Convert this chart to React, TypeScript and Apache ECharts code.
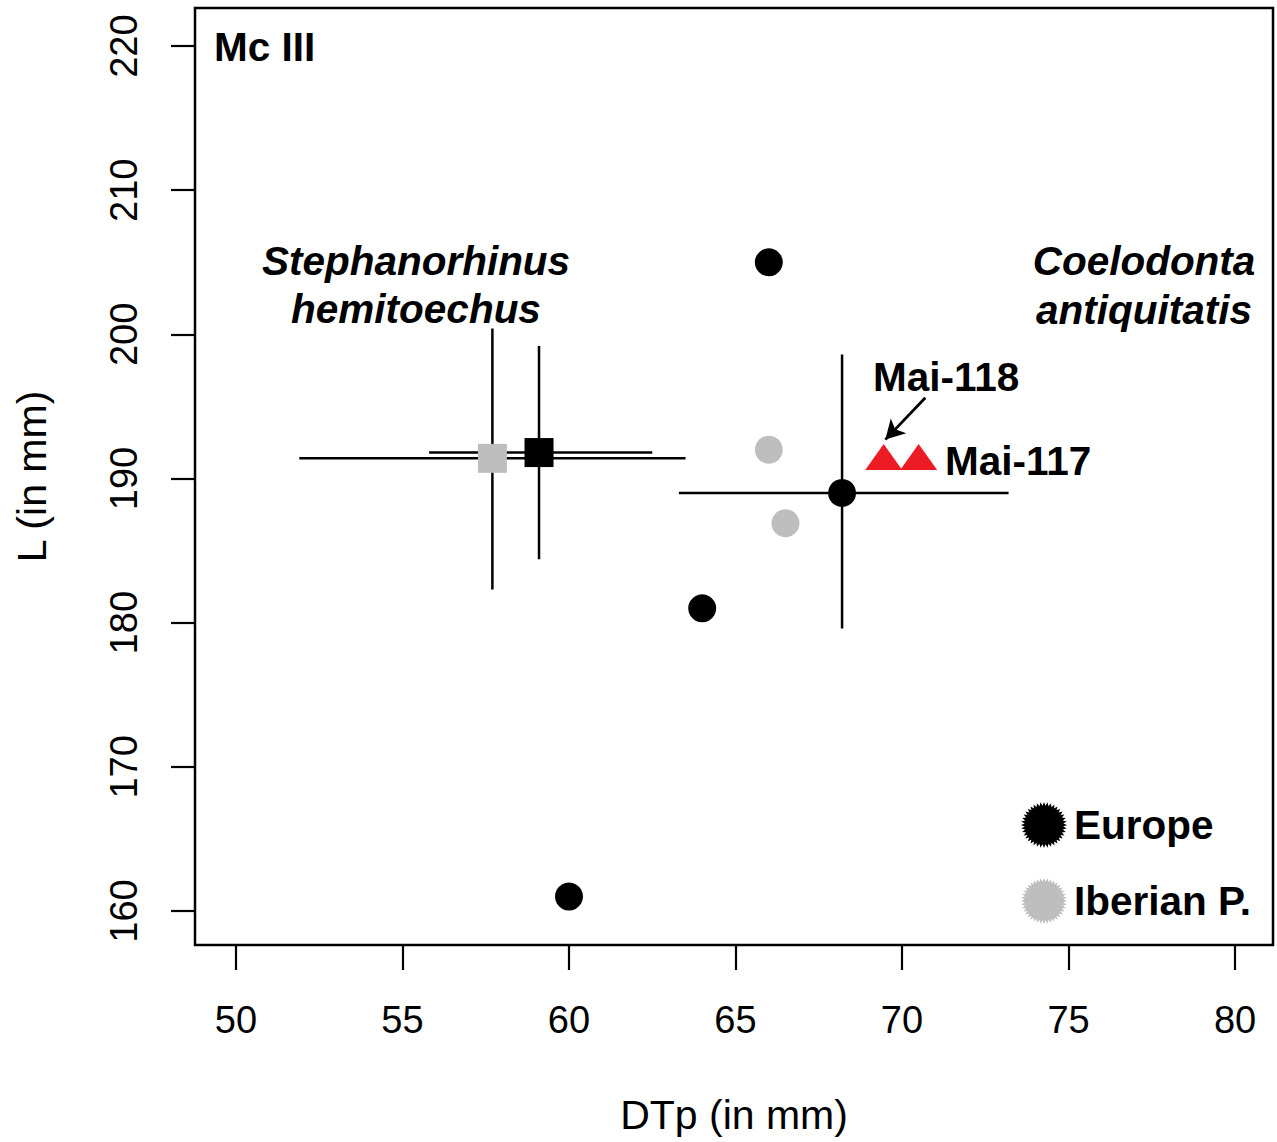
import { useEffect, useRef } from "react";
import * as echarts from "echarts";

// Axis ticks
const xTicks = [50, 55, 60, 65, 70, 75, 80];
const yTicks = [160, 170, 180, 190, 200, 210, 220];

// Coelodonta antiquitatis (circles)
const europeCircles = [
  [66, 205],
  [64, 181],
  [60, 161],
];
const europeMean = [[68.2, 189]];
const iberianCircles = [
  [66, 192],
  [66.5, 186.9],
];
// Stephanorhinus hemitoechus (squares)
const europeSquare = [[59.1, 191.8]];
const iberianSquare = [[57.7, 191.4]];
// error bars: [x, y, xLow, xHigh, yLow, yHigh]
const errorBars = [
  [57.7, 191.4, 51.9, 63.5, 182.3, 200.4],
  [59.1, 191.8, 55.8, 62.5, 184.4, 199.2],
  [68.2, 189.0, 63.3, 73.2, 179.6, 198.6],
];
// Maisières specimens
const maiPoints = [
  [69.45, 191.5],
  [70.5, 191.5],
];
const maiArrow = [
  [70.7, 195.6],
  [69.5, 192.7],
];

function spikyPath(): string {
  const n = 40;
  const pts: string[] = [];
  for (let i = 0; i < n * 2; i++) {
    const a = (Math.PI * i) / n;
    const r = i % 2 === 0 ? 50 : 42;
    pts.push(`${(50 + r * Math.cos(a)).toFixed(2)} ${(50 + r * Math.sin(a)).toFixed(2)}`);
  }
  return "path://M" + pts.join(" L") + " Z";
}

export default function App() {
  const ref = useRef<HTMLDivElement>(null);
  useEffect(() => {
    if (!ref.current) return;
    const chart = echarts.init(ref.current, undefined, { renderer: "svg" });
    const BLACK = "#000000";
    const GRAY = "#bebebe";
    const RED = "#ed1c24";
    const font = "Liberation Sans, Arial, sans-serif";
    const icon = spikyPath();
    const annFont = 40.5;
    const option: any = {
      animation: false,
      backgroundColor: "#ffffff",
      grid: {
        left: 195,
        top: 8,
        right: 4,
        bottom: 197,
        show: true,
        borderColor: "#000",
        borderWidth: 2.5,
        backgroundColor: "transparent",
        outerBoundsMode: "none",
      },
      xAxis: {
        type: "value",
        min: 48.77,
        max: 81.14,
        name: "DTp (in mm)",
        nameLocation: "middle",
        nameGap: 149,
        nameTextStyle: { fontFamily: font, fontSize: 41, color: "#000" },
        axisLine: { show: false },
        splitLine: { show: false },
        axisTick: {
          show: true,
          customValues: xTicks,
          length: 25,
          lineStyle: { color: "#000", width: 2.2 },
        },
        axisLabel: {
          customValues: xTicks,
          margin: 56,
          fontFamily: font,
          fontSize: 38,
          color: "#000",
        },
      },
      yAxis: {
        type: "value",
        min: 157.64,
        max: 222.64,
        name: "L (in mm)",
        nameLocation: "middle",
        nameGap: 143,
        nameRotate: 90,
        nameTextStyle: { fontFamily: font, fontSize: 41, color: "#000" },
        axisLine: { show: false },
        splitLine: { show: false },
        axisTick: {
          show: true,
          customValues: yTicks,
          length: 24,
          lineStyle: { color: "#000", width: 2.2 },
        },
        axisLabel: {
          customValues: yTicks,
          rotate: 90,
          margin: 52,
          fontFamily: font,
          fontSize: 38,
          color: "#000",
        },
      },
      legend: {
        orient: "vertical",
        left: 1016,
        top: 797,
        itemWidth: 46,
        itemHeight: 46,
        itemGap: 30,
        selectedMode: false,
        textStyle: {
          fontFamily: font,
          fontSize: annFont,
          fontWeight: "bold",
          color: "#000",
          padding: [0, 0, 0, 2],
        },
        data: [
          { name: "Europe", icon, itemStyle: { color: BLACK } },
          { name: "Iberian P.", icon, itemStyle: { color: GRAY } },
        ],
      },
      series: [
        {
          type: "custom",
          name: "errorbars",
          silent: true,
          encode: { x: [0, 2, 3], y: [1, 4, 5] },
          data: errorBars,
          z: 1,
          renderItem: (_params: any, api: any) => {
            const l = api.coord([api.value(2), api.value(1)]);
            const r = api.coord([api.value(3), api.value(1)]);
            const b = api.coord([api.value(0), api.value(4)]);
            const t = api.coord([api.value(0), api.value(5)]);
            return {
              type: "group",
              children: [
                {
                  type: "line",
                  shape: { x1: l[0], y1: l[1], x2: r[0], y2: r[1] },
                  style: { stroke: BLACK, lineWidth: 2.5 },
                },
                {
                  type: "line",
                  shape: { x1: b[0], y1: b[1], x2: t[0], y2: t[1] },
                  style: { stroke: BLACK, lineWidth: 2.5 },
                },
              ],
            };
          },
        },
        {
          type: "scatter",
          name: "Iberian P.",
          symbol: "rect",
          symbolSize: 29,
          data: iberianSquare,
          itemStyle: { color: GRAY, opacity: 1 },
          z: 3,
        },
        {
          type: "scatter",
          name: "Europe",
          symbol: "rect",
          symbolSize: 29,
          data: europeSquare,
          itemStyle: { color: BLACK, opacity: 1 },
          z: 3,
        },
        {
          type: "scatter",
          name: "Europe",
          symbol: "circle",
          symbolSize: 28,
          data: [...europeCircles, ...europeMean],
          itemStyle: { color: BLACK, opacity: 1 },
          z: 3,
        },
        {
          type: "scatter",
          name: "Iberian P.",
          symbol: "circle",
          symbolSize: 28,
          data: iberianCircles,
          itemStyle: { color: GRAY, opacity: 1 },
          z: 3,
        },
        {
          type: "scatter",
          name: "Maisières",
          symbol: "triangle",
          symbolSize: [37, 26],
          data: maiPoints,
          itemStyle: { color: RED, opacity: 1 },
          z: 4,
          markLine: {
            silent: true,
            symbol: ["none", "arrow"],
            symbolSize: [16, 19],
            label: { show: false },
            lineStyle: { color: BLACK, width: 2.8, type: "solid" },
            data: [[{ coord: maiArrow[0] }, { coord: maiArrow[1] }]],
          },
        },
      ],
      graphic: [
        {
          type: "text",
          left: 214,
          top: 26,
          style: { text: "Mc III", font: `bold ${annFont}px ${font}`, fill: "#000" },
        },
        {
          type: "text",
          x: 416,
          y: 261,
          style: {
            text: "Stephanorhinus",
            font: `italic bold ${annFont}px ${font}`,
            fill: "#000",
            textAlign: "center",
            textVerticalAlign: "middle",
          },
        },
        {
          type: "text",
          x: 416,
          y: 309,
          style: {
            text: "hemitoechus",
            font: `italic bold ${annFont}px ${font}`,
            fill: "#000",
            textAlign: "center",
            textVerticalAlign: "middle",
          },
        },
        {
          type: "text",
          x: 1144,
          y: 261,
          style: {
            text: "Coelodonta",
            font: `italic bold ${annFont}px ${font}`,
            fill: "#000",
            textAlign: "center",
            textVerticalAlign: "middle",
          },
        },
        {
          type: "text",
          x: 1144,
          y: 310,
          style: {
            text: "antiquitatis",
            font: `italic bold ${annFont}px ${font}`,
            fill: "#000",
            textAlign: "center",
            textVerticalAlign: "middle",
          },
        },
        {
          type: "text",
          x: 873,
          y: 377,
          style: {
            text: "Mai-118",
            font: `bold ${annFont}px ${font}`,
            fill: "#000",
            textAlign: "left",
            textVerticalAlign: "middle",
          },
        },
        {
          type: "text",
          x: 945,
          y: 461,
          style: {
            text: "Mai-117",
            font: `bold ${annFont}px ${font}`,
            fill: "#000",
            textAlign: "left",
            textVerticalAlign: "middle",
          },
        },
      ],
    };
    chart.setOption(option);
    return () => chart.dispose();
  }, []);
  return (
    <div
      ref={ref}
      style={{ position: "absolute", left: 0, top: 0, width: 1277, height: 1142 }}
    />
  );
}
